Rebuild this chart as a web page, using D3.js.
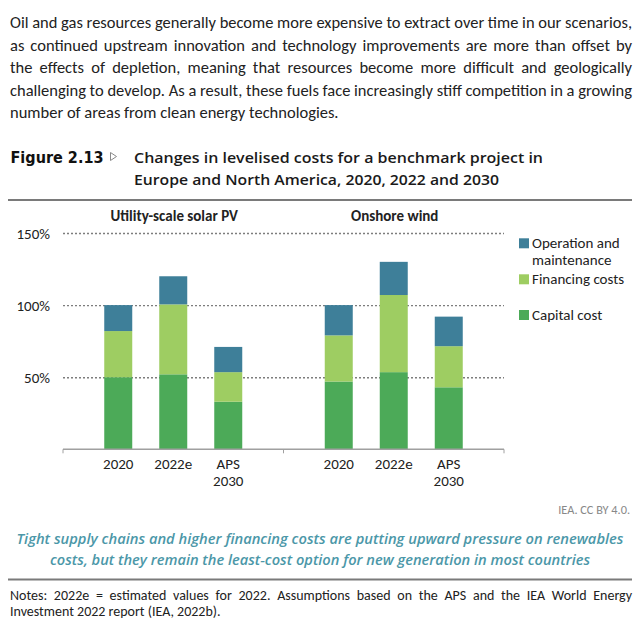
<!DOCTYPE html>
<html><head><meta charset="utf-8">
<script src="https://cdn.jsdelivr.net/npm/d3@7"></script>
<style>
html,body{margin:0;padding:0;background:#fff;}
svg{display:block;}
</style></head>
<body>
<svg id="c" width="640" height="630"></svg>
<script>
// ---- data ----
const groups = ["Utility-scale solar PV", "Onshore wind"];
const categories = ["2020", "2022e", "APS 2030"];
const categoryLabels = [["2020"], ["2022e"], ["APS", "2030"]];
const seriesNames = ["Capital cost", "Financing costs", "Operation and maintenance"];
const capitalCost = [[50, 52, 33], [47, 53.5, 43]];
const financingCosts = [[32, 48.5, 20.5], [32, 53.5, 28.5]];
const operationMaintenance = [[18, 19.5, 17.5], [21, 23, 20.5]];
const yTicks = [50, 100, 150];
const legendLabels = [["Operation and", "maintenance"], ["Financing costs"], ["Capital cost"]];
const paragraph = [
  "Oil and gas resources generally become more expensive to extract over time in our scenarios,",
  "as continued upstream innovation and technology improvements are more than offset by",
  "the effects of depletion, meaning that resources become more difficult and geologically",
  "challenging to develop. As a result, these fuels face increasingly stiff competition in a growing",
  "number of areas from clean energy technologies."
];
const figureNumber = "Figure 2.13";
const titleLines = ["Changes in levelised costs for a benchmark project in", "Europe and North America, 2020, 2022 and 2030"];
const sourceText = "IEA. CC BY 4.0.";
const summaryLines = ["Tight supply chains and higher financing costs are putting upward pressure on renewables",
  "costs, but they remain the least-cost option for new generation in most countries"];
const notesLines = ["Notes: 2022e = estimated values for 2022. Assumptions based on the APS and the IEA World Energy",
  "Investment 2022 report (IEA, 2022b)."];

// ---- style ----
const colors = {"Capital cost": "#4caa58", "Financing costs": "#9ecd62", "Operation and maintenance": "#3e7f99"};
const bodyFont = "Carlito, 'Liberation Sans', Arial, sans-serif";
const svg = d3.select("#c");

// fit helper: compress if too wide; optionally justify by word spacing if too narrow
function fit(sel, w, justify) {
  sel.each(function () {
    const s = d3.select(this);
    const n = this.getComputedTextLength();
    if (n > w) {
      s.attr("textLength", w).attr("lengthAdjust", "spacingAndGlyphs");
    } else if (justify) {
      const spaces = (s.text().match(/ /g) || []).length;
      if (spaces) s.style("word-spacing", ((w - n) / spaces) + "px");
    }
  });
}

// paragraph
const paraBase = [28, 50.5, 73, 95.5, 118];
const paraLen = [622, 622, 622, 622, 331];
const para = svg.append("g").selectAll("text").data(paragraph).join("text")
  .attr("x", 10).attr("y", (d, i) => paraBase[i])
  .attr("font-family", bodyFont).attr("font-size", 16.5).attr("fill", "#222")
  .text(d => d);
para.each(function (d, i) { fit(d3.select(this), paraLen[i], i < 4); });

// title
svg.append("text").attr("x", 10.5).attr("y", 163).attr("font-family", "'DejaVu Sans', sans-serif")
  .attr("font-weight", "bold").attr("font-size", 15).attr("fill", "#111")
  .attr("textLength", 93).attr("lengthAdjust", "spacingAndGlyphs").text(figureNumber);
svg.append("path").attr("d", "M110.5,152.5 L116.5,156.5 L110.5,160.5 Z")
  .attr("fill", "none").attr("stroke", "#8a8a8a").attr("stroke-width", 1);
const titleLen = [409, 365];
svg.append("g").selectAll("text").data(titleLines).join("text")
  .attr("x", 134).attr("y", (d, i) => 163 + i * 22)
  .attr("font-family", "'Open Sans', sans-serif").attr("font-weight", 600).attr("font-size", 14.5)
  .attr("fill", "#1a1a1a").attr("textLength", (d, i) => titleLen[i]).attr("lengthAdjust", "spacingAndGlyphs")
  .text(d => d);
svg.append("line").attr("x1", 8).attr("x2", 632).attr("y1", 200).attr("y2", 200)
  .attr("stroke", "#7a7a7a").attr("stroke-width", 2);

// chart
const y = d3.scaleLinear().domain([0, 150]).range([449.3, 233]);
const x0 = d3.scaleBand().domain(groups).range([63, 504]).padding(0);
const x1 = d3.scaleBand().domain(categories).range([0, x0.bandwidth()]).paddingInner(0.491).paddingOuter(0.75);

// gridlines + y labels via axis
const yAxis = d3.axisLeft(y).tickValues(yTicks).tickFormat(d => d + "%")
  .tickSizeInner(-(504 - 63)).tickSizeOuter(0).tickPadding(13);
const gy = svg.append("g").attr("transform", "translate(63,0)").call(yAxis);
gy.select(".domain").remove();
gy.selectAll(".tick line").attr("stroke", "#7d7d7d").attr("stroke-width", 1.4).attr("stroke-dasharray", "2,2");
gy.selectAll(".tick text").attr("font-family", bodyFont).attr("font-size", 15).attr("fill", "#222")
  .attr("dy", "0.34em").attr("x", -13);

// stacked bars
const rows = [];
groups.forEach((g, gi) => {
  categories.forEach((c, ci) => {
    rows.push({group: g, cat: c, "Capital cost": capitalCost[gi][ci],
      "Financing costs": financingCosts[gi][ci], "Operation and maintenance": operationMaintenance[gi][ci]});
  });
});
const stack = d3.stack().keys(seriesNames)(rows);
svg.append("g").selectAll("g").data(stack).join("g").attr("fill", d => colors[d.key])
  .selectAll("rect").data(d => d).join("rect")
  .attr("x", d => x0(d.data.group) + x1(d.data.cat))
  .attr("width", x1.bandwidth())
  .attr("y", d => y(d[1]))
  .attr("height", d => y(d[0]) - y(d[1]));

// baseline axis
const base = svg.append("g").attr("transform", `translate(0,${y(0)})`);
base.append("line").attr("x1", 63).attr("x2", 504).attr("stroke", "#a0a0a0").attr("stroke-width", 1.5);
base.selectAll("line.tk").data([63, x0(groups[1]), 504]).join("line").attr("class", "tk")
  .attr("x1", d => d).attr("x2", d => d).attr("y1", 0).attr("y2", 4)
  .attr("stroke", "#a0a0a0").attr("stroke-width", 1);

// category labels
groups.forEach(g => {
  categories.forEach((c, ci) => {
    const t = svg.append("text").attr("text-anchor", "middle")
      .attr("font-family", bodyFont).attr("font-size", 15).attr("fill", "#222");
    categoryLabels[ci].forEach((line, li) => {
      t.append("tspan").attr("x", x0(g) + x1(c) + x1.bandwidth() / 2).attr("y", 469 + li * 17).text(line);
    });
  });
});

// group labels
svg.append("g").selectAll("text").data(groups).join("text")
  .attr("x", d => x0(d) + x0.bandwidth() / 2 + 1).attr("y", 221).attr("text-anchor", "middle")
  .attr("font-family", bodyFont).attr("font-weight", "bold").attr("font-size", 15).attr("fill", "#222")
  .text(d => d);

// legend
const legendOrder = ["Operation and maintenance", "Financing costs", "Capital cost"];
const legendY = [238.3, 274.3, 310];
const lg = svg.append("g");
legendOrder.forEach((k, i) => {
  lg.append("rect").attr("x", 519).attr("y", legendY[i]).attr("width", 10).attr("height", 10).attr("fill", colors[k]);
  const t = lg.append("text").attr("font-family", bodyFont).attr("font-size", 15).attr("fill", "#222");
  legendLabels[i].forEach((line, li) => {
    t.append("tspan").attr("x", 532).attr("y", legendY[i] + 9.5 + li * 17).text(line);
  });
});

// source
svg.append("text").attr("x", 630).attr("y", 513.5).attr("text-anchor", "end")
  .attr("font-family", bodyFont).attr("font-size", 12.3).attr("fill", "#888").text(sourceText);

// summary
const sumLen = [607, 540];
svg.append("g").selectAll("text").data(summaryLines).join("text")
  .attr("x", 320).attr("y", (d, i) => 543.5 + i * 21).attr("text-anchor", "middle")
  .attr("font-family", "'Open Sans', sans-serif").attr("font-style", "italic").attr("font-weight", 600)
  .attr("font-size", 14.5).attr("fill", "#4b97a8")
  .attr("textLength", (d, i) => sumLen[i]).attr("lengthAdjust", "spacingAndGlyphs")
  .text(d => d);
svg.append("line").attr("x1", 8).attr("x2", 632).attr("y1", 579.5).attr("y2", 579.5)
  .attr("stroke", "#7a7a7a").attr("stroke-width", 2);

// notes
const notesLen = [622, 211];
const notes = svg.append("g").selectAll("text").data(notesLines).join("text")
  .attr("x", 10).attr("y", (d, i) => 599.5 + i * 16)
  .attr("font-family", bodyFont).attr("font-size", 14).attr("fill", "#222")
  .text(d => d);
notes.each(function (d, i) { fit(d3.select(this), notesLen[i], i === 0); });
</script>
</body></html>
